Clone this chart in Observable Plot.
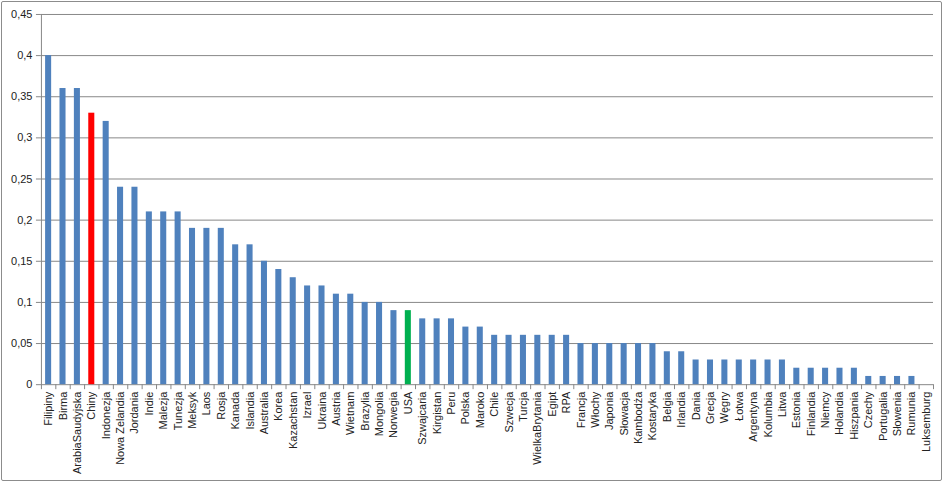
<!DOCTYPE html>
<html>
<head>
<meta charset="utf-8">
<script src="https://cdn.jsdelivr.net/npm/d3@7"></script>
<script src="https://cdn.jsdelivr.net/npm/@observablehq/plot@0.6"></script>
<style>
  html, body { margin: 0; padding: 0; background: #fff; }
  #chart { width: 945px; height: 483px; box-sizing: border-box; }
  #chart svg { display: block; box-sizing: border-box; border: 1px solid #8c8c8c; border-radius: 2px; margin: 1px; }
</style>
</head>
<body>
<div id="chart"></div>
<script>
const countries = ["Filipiny","Birma","ArabiaSaudyjska","Chiny","Indonezja","Nowa Zelandia","Jordania","Indie","Malezja","Tunezja","Meksyk","Laos","Rosja","Kanada","Islandia","Australia","Korea","Kazachstan","Izrael","Ukraina","Austria","Wietnam","Brazylia","Mongolia","Norwegia","USA","Szwajcaria","Kirgistan","Peru","Polska","Maroko","Chile","Szwecja","Turcja","WielkaBrytania","Egipt","RPA","Francja","Włochy","Japonia","Słowacja","Kambodża","Kostaryka","Belgia","Irlandia","Dania","Grecja","Węgry","Łotwa","Argentyna","Kolumbia","Litwa","Estonia","Finlandia","Niemcy","Holandia","Hiszpania","Czechy","Portugalia","Słowenia","Rumunia","Luksemburg"];
const values = [0.40,0.36,0.36,0.33,0.32,0.24,0.24,0.21,0.21,0.21,0.19,0.19,0.19,0.17,0.17,0.15,0.14,0.13,0.12,0.12,0.11,0.11,0.10,0.10,0.09,0.09,0.08,0.08,0.08,0.07,0.07,0.06,0.06,0.06,0.06,0.06,0.06,0.05,0.05,0.05,0.05,0.05,0.05,0.04,0.04,0.03,0.03,0.03,0.03,0.03,0.03,0.03,0.02,0.02,0.02,0.02,0.02,0.01,0.01,0.01,0.01,0.00];
const highlight = {"Chiny": "#ff0000", "USA": "#00b050"};
const defaultColor = "#4f81bd";
const yTicks = [0,0.05,0.1,0.15,0.2,0.25,0.3,0.35,0.4,0.45];
const yTickLabels = ["0","0,05","0,1","0,15","0,2","0,25","0,3","0,35","0,4","0,45"];

const data = countries.map((c, i) => ({country: c, value: values[i], color: highlight[c] || defaultColor}));

const W = 941, H = 479;
const mL = 39, mR = 8, mT = 12, mB = 96;
const band = (W - mL - mR) / countries.length;

const chart = Plot.plot({
  width: W,
  height: H,
  marginLeft: mL,
  marginRight: mR,
  marginTop: mT,
  marginBottom: mB,
  style: {fontFamily: "'Liberation Sans', Arial, sans-serif", fontSize: "11px", color: "#222", background: "#fff", overflow: "visible"},
  x: {domain: countries, paddingInner: 0.58, paddingOuter: 0.29, align: 0.5, round: false},
  y: {domain: [0, 0.45]},
  marks: [
    Plot.ruleY(yTicks, {stroke: "#888", strokeWidth: 1, strokeOpacity: 1}),
    Plot.barY(data, {x: "country", y: "value", fill: "color"}),
    Plot.frame({anchor: "left", stroke: "#888", strokeOpacity: 1}),
    Plot.axisY({ticks: yTicks, tickFormat: d => yTickLabels[yTicks.indexOf(d)], tickSize: 5, tickPadding: 4, label: null, stroke: "#888", fill: "#222", fontSize: 11}),
    Plot.axisX({tickSize: 0, tickPadding: 7, tickRotate: -90, label: null, fill: "#222", fontSize: 11}),
    Plot.axisX({tickSize: 5, text: null, dx: -band / 2, label: null, stroke: "#888"}),
    Plot.axisX({ticks: [countries[countries.length - 1]], tickSize: 5, text: null, dx: band / 2, label: null, stroke: "#888"})
  ]
});
document.getElementById("chart").appendChild(chart);
</script>
</body>
</html>
